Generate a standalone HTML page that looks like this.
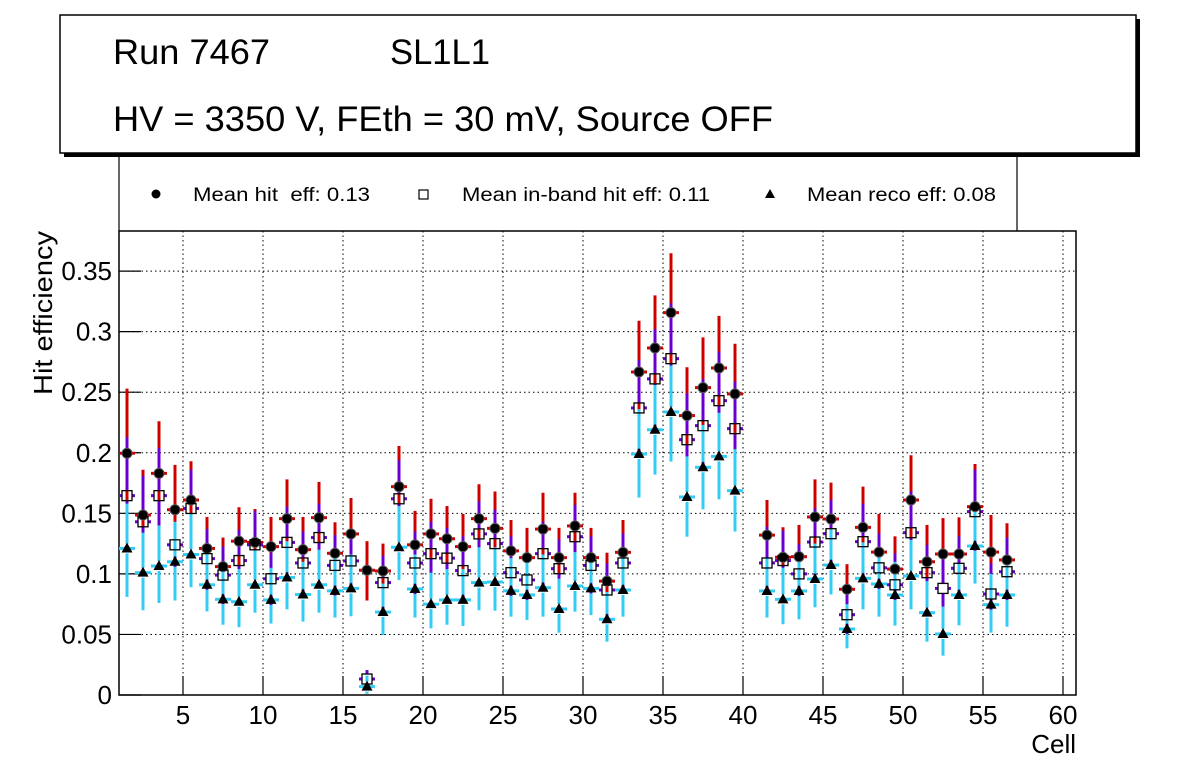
<!DOCTYPE html>
<html><head><meta charset="utf-8"><style>
html,body{margin:0;padding:0;background:#fff;}
svg{display:block;font-family:"Liberation Sans",Arial,sans-serif;}
</style></head><body>
<svg id="chart" width="1196" height="772" viewBox="0 0 1196 772" xmlns="http://www.w3.org/2000/svg">
  <rect x="64" y="19" width="1076" height="138" fill="#000"/>
  <rect x="60" y="15" width="1076" height="138" fill="#fff" stroke="#000" stroke-width="1.5"/>
  <text x="113" y="64" font-size="35" textLength="157" lengthAdjust="spacingAndGlyphs">Run 7467</text>
  <text x="390" y="64" font-size="35" textLength="100" lengthAdjust="spacingAndGlyphs">SL1L1</text>
  <text x="113" y="131" font-size="35" textLength="660" lengthAdjust="spacingAndGlyphs">HV = 3350 V, FEth = 30 mV, Source OFF</text>
  <g>
    <path d="M119 157 V231 M1017 157 V231" stroke="#000" stroke-width="1.2"/>
    <g>
      <circle cx="156" cy="194" r="4.5" fill="#000"/>
      <text x="193" y="201" font-size="19" xml:space="preserve" textLength="177" lengthAdjust="spacingAndGlyphs">Mean hit  eff: 0.13</text>
    </g>
    <g>
      <rect x="419" y="190" width="9" height="9" fill="none" stroke="#000" stroke-width="1.2"/>
      <text x="462" y="201" font-size="19" textLength="248" lengthAdjust="spacingAndGlyphs">Mean in-band hit eff: 0.11</text>
    </g>
    <g>
      <path d="M770 189 L775 198 L765 198 Z" fill="#000"/>
      <text x="807" y="201" font-size="19" textLength="189" lengthAdjust="spacingAndGlyphs">Mean reco eff: 0.08</text>
    </g>
  </g>
  <g id="grid"></g>
  <g id="axes"></g>
  <g id="marks"></g>
  <text transform="translate(52,231) rotate(-90)" text-anchor="end" font-size="26" textLength="164" lengthAdjust="spacingAndGlyphs">Hit efficiency</text>
  <text x="1076" y="753" text-anchor="end" font-size="26">Cell</text>
</svg>
<script>
const cells = [1,2,3,4,5,6,7,8,9,10,11,12,13,14,15,16,17,18,19,20,21,22,23,24,25,26,27,28,29,30,31,32,33,34,35,36,37,38,39,41,42,43,44,45,46,47,48,49,50,51,52,53,54,55,56];
const hitV = [0.1996,0.1486,0.183,0.153,0.161,0.121,0.106,0.127,0.126,0.1225,0.1456,0.120,0.1464,0.117,0.133,0.103,0.1024,0.172,0.124,0.133,0.129,0.1225,0.1456,0.1376,0.119,0.1134,0.137,0.1134,0.1396,0.1134,0.094,0.1178,0.2667,0.2865,0.3157,0.2307,0.2538,0.270,0.2486,0.132,0.1137,0.1142,0.147,0.1453,0.0873,0.1384,0.118,0.104,0.161,0.110,0.1164,0.1164,0.1555,0.118,0.1115];
const hitHi = [0.253,0.186,0.226,0.190,0.193,0.147,0.130,0.155,0.1536,0.147,0.178,0.147,0.176,0.1426,0.1627,0.127,0.125,0.2056,0.152,0.162,0.156,0.1495,0.174,0.168,0.1445,0.138,0.167,0.138,0.167,0.138,0.1175,0.1445,0.309,0.330,0.3647,0.2706,0.2953,0.313,0.290,0.161,0.1385,0.1404,0.178,0.1753,0.108,0.172,0.1495,0.131,0.198,0.1404,0.146,0.1467,0.1907,0.1486,0.1418];
const hitLo = [0.160,0.115,0.145,0.120,0.130,0.097,0.083,0.102,0.101,0.098,0.118,0.096,0.119,0.093,0.106,0.078,0.081,0.141,0.099,0.106,0.104,0.098,0.118,0.110,0.095,0.090,0.110,0.090,0.113,0.090,0.073,0.094,0.228,0.247,0.272,0.195,0.216,0.231,0.211,0.105,0.090,0.090,0.119,0.117,0.068,0.110,0.094,0.082,0.130,0.088,0.092,0.092,0.124,0.093,0.088];
const bandV = [0.1646,0.143,0.1646,0.124,0.154,0.1126,0.099,0.111,0.124,0.096,0.126,0.109,0.130,0.107,0.1107,0.0132,0.0928,0.162,0.109,0.1167,0.113,0.1027,0.133,0.125,0.101,0.095,0.1167,0.1043,0.1307,0.107,0.0867,0.109,0.237,0.261,0.2777,0.2108,0.2224,0.243,0.2199,0.109,0.111,0.100,0.1263,0.1332,0.0663,0.1266,0.105,0.091,0.134,0.101,0.088,0.1046,0.1514,0.0834,0.1018];
const bandHi = [0.213,0.181,0.204,0.140,0.186,0.137,0.1225,0.1365,0.152,0.1175,0.1555,0.135,0.158,0.132,0.130,0.0206,0.115,0.194,0.135,0.143,0.138,0.131,0.160,0.153,0.131,0.117,0.143,0.1285,0.157,0.131,0.1087,0.1335,0.2766,0.302,0.3234,0.249,0.2607,0.2835,0.2587,0.139,0.1357,0.1247,0.154,0.161,0.084,0.158,0.1335,0.117,0.168,0.124,0.117,0.131,0.1858,0.1087,0.130];
const bandLo = [0.130,0.110,0.130,0.095,0.122,0.086,0.075,0.085,0.097,0.072,0.098,0.083,0.102,0.082,0.086,0.006,0.070,0.130,0.083,0.090,0.087,0.078,0.105,0.098,0.076,0.071,0.090,0.080,0.103,0.082,0.064,0.084,0.199,0.222,0.238,0.174,0.185,0.205,0.182,0.083,0.086,0.076,0.099,0.106,0.047,0.099,0.080,0.068,0.105,0.077,0.065,0.080,0.119,0.061,0.078];
const recoV = [0.121,0.101,0.1065,0.110,0.116,0.091,0.079,0.077,0.091,0.0785,0.097,0.083,0.091,0.086,0.088,0.0069,0.0685,0.122,0.0875,0.075,0.0785,0.0785,0.0928,0.0933,0.086,0.0826,0.0886,0.071,0.090,0.088,0.0625,0.0867,0.199,0.219,0.2337,0.1635,0.188,0.197,0.1687,0.0859,0.079,0.0859,0.0958,0.1073,0.0545,0.0963,0.0917,0.0826,0.0983,0.068,0.0504,0.0826,0.123,0.0746,0.0826];
const recoHi = [0.158,0.134,0.140,0.143,0.150,0.120,0.106,0.104,0.120,0.105,0.127,0.110,0.120,0.113,0.116,0.016,0.092,0.156,0.116,0.101,0.104,0.104,0.122,0.122,0.113,0.109,0.116,0.096,0.118,0.116,0.085,0.114,0.236,0.256,0.272,0.197,0.223,0.233,0.203,0.113,0.105,0.113,0.125,0.137,0.075,0.126,0.120,0.110,0.128,0.094,0.073,0.109,0.158,0.100,0.110];
const recoLo = [0.081,0.070,0.076,0.078,0.089,0.069,0.058,0.056,0.068,0.059,0.0707,0.0606,0.068,0.064,0.065,0.001,0.0495,0.095,0.064,0.055,0.058,0.057,0.070,0.0696,0.0647,0.062,0.0647,0.0515,0.0688,0.066,0.044,0.0647,0.163,0.182,0.1927,0.1307,0.1533,0.1616,0.135,0.064,0.0584,0.0625,0.0724,0.083,0.0385,0.0707,0.0647,0.0573,0.0707,0.044,0.0325,0.0575,0.092,0.0515,0.0564];
const xTicks = [5,10,15,20,25,30,35,40,45,50,55,60];
const yTicks = [0,0.05,0.1,0.15,0.2,0.25,0.3,0.35];
const yTickLabels = ["0","0.05","0.1","0.15","0.2","0.25","0.3","0.35"];

const NS = "http://www.w3.org/2000/svg";
const L = 119, R = 1076, T = 231, B = 695;
const X0 = 1, X1 = 60.8125, Y0 = 0, Y1 = 0.3831;
function sx(v){ return L + (v - X0) / (X1 - X0) * (R - L); }
function sy(v){ return B - (v - Y0) / (Y1 - Y0) * (B - T); }
function mk(tag, attrs, parent){
  const e = document.createElementNS(NS, tag);
  for (const k in attrs) e.setAttribute(k, attrs[k]);
  parent.appendChild(e);
  return e;
}
const grid = document.getElementById('grid');
const axes = document.getElementById('axes');
const marks = document.getElementById('marks');

xTicks.forEach(t => {
  const x = sx(t);
  const g = mk('line', {x1:x, x2:x, y1:T, y2:B, stroke:'#000', 'stroke-width':1, 'stroke-dasharray':'1.5,3'}, grid);
  
  
  const tk = mk('line', {x1:x, x2:x, y1:B, y2:B-19, stroke:'#000', 'stroke-width':1.2}, axes);
  
  
  const lb = mk('text', {x:x, y:B+29, 'text-anchor':'middle', 'font-size':26}, axes);
  lb.textContent = String(t);
  
  
});
yTicks.forEach((t, i) => {
  const y = sy(t);
  if (t > 0) {
    const g = mk('line', {x1:L, x2:R, y1:y, y2:y, stroke:'#000', 'stroke-width':1, 'stroke-dasharray':'1.5,3'}, grid);
    
    
  }
  const tk = mk('line', {x1:L, x2:L+22, y1:y, y2:y, stroke:'#000', 'stroke-width':1.2}, axes);
  
  
  const lb = mk('text', {x:112, y:y+9, 'text-anchor':'end', 'font-size':26}, axes);
  lb.textContent = yTickLabels[i];
  
  
});
const frame = mk('rect', {x:L, y:T, width:R-L, height:B-T, fill:'none', stroke:'#000', 'stroke-width':1.5}, axes);



const RED = '#d10000', PUR = '#6a00d0', CY = '#33ccf5';
function vseg(x, y1, y2, col, parent){
  if (y2 - y1 < 0.5) return;
  mk('line', {x1:x, x2:x, y1:y1, y2:y2, stroke:col, 'stroke-width':3}, parent);
}
cells.forEach((c, i) => {
  const x = sx(c + 0.5);
  const g = mk('g', {}, marks);
  
  
  vseg(x, sy(hitHi[i]), sy(hitLo[i]), RED, g);
  const yb = sy(bandV[i]);
  vseg(x, sy(bandHi[i]), yb - 5, PUR, g);
  vseg(x, yb + 5, sy(bandLo[i]), PUR, g);
  const yr = sy(recoV[i]);
  vseg(x, sy(recoHi[i]), yr - 5, CY, g);
  vseg(x, yr + 5, sy(recoLo[i]), CY, g);
  const yh = sy(hitV[i]);
  mk('line', {x1:x-8, x2:x+8, y1:yh, y2:yh, stroke:RED, 'stroke-width':3}, g);
  mk('line', {x1:x-8, x2:x-5, y1:yb, y2:yb, stroke:PUR, 'stroke-width':3}, g);
  mk('line', {x1:x+5, x2:x+8, y1:yb, y2:yb, stroke:PUR, 'stroke-width':3}, g);
  mk('line', {x1:x-8, x2:x+8, y1:yr, y2:yr, stroke:CY, 'stroke-width':3}, g);
  const hc = mk('circle', {cx:x, cy:yh, r:5, fill:'#000', stroke:'#555', 'stroke-width':1}, g);
  
  
  const sq = mk('rect', {x:x-5, y:yb-5, width:10, height:10, fill:'none', stroke:'#000', 'stroke-width':1.3}, g);
  
  
  const tr = mk('path', {d:`M${x} ${yr-6} L${x+5.5} ${yr+4} L${x-5.5} ${yr+4} Z`, fill:'#000'}, g);
  
  
});
</script>
</body></html>
